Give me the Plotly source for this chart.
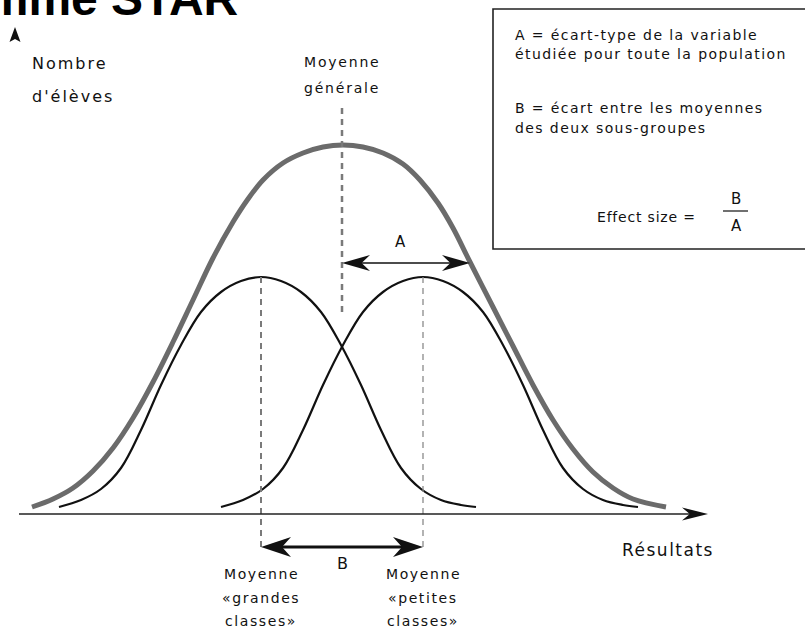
import plotly.graph_objects as go

# ---------------- data ----------------
# x : "Résultats" (arbitrary score units), y : "Nombre d'élèves" (arbitrary units)
pop_x = [32, 53, 73, 93, 113, 133, 153, 173, 193, 213, 233, 248, 263, 283, 303, 323, 343,
         363, 383, 403, 420, 438, 453, 470, 493, 513, 533, 553, 573, 593, 613, 633, 666]
pop_y = [7, 15, 26, 43, 66, 96, 132, 172, 214, 256, 292, 315, 334, 351, 361, 367, 369,
         367, 361, 350, 334, 311, 286, 252, 207, 168, 129, 94, 65, 42, 26, 15, 7]

grandes_x = [59, 81, 101, 121, 141, 161, 181, 201, 221, 241, 261,
             281, 301, 321, 341, 361, 381, 401, 421, 441, 461, 476]
grandes_y = [7, 14, 25, 46, 84, 129, 169, 202, 222, 233, 237,
             233, 222, 202, 169, 129, 84, 46, 25, 14, 9, 7]

petites_x = [221, 243, 263, 283, 303, 323, 343, 363, 383, 403, 423,
             443, 463, 483, 503, 523, 543, 563, 583, 603, 623, 638]
petites_y = [7, 14, 25, 46, 84, 129, 169, 202, 222, 233, 237,
             233, 222, 202, 169, 129, 84, 46, 25, 14, 9, 7]

mean_pop = 342        # Moyenne générale
mean_grandes = 261    # Moyenne « grandes classes »
mean_petites = 423    # Moyenne « petites classes »
sd_pop = 128          # A = écart-type de la population

# ---------------- texts ----------------
title_text = "Programme STAR"
y_label = ["Nombre", "d'élèves"]
x_label = "Résultats"
mean_pop_label = ["Moyenne", "générale"]
grandes_label = ["Moyenne", "«grandes", "classes»"]
petites_label = ["Moyenne", "«petites", "classes»"]
box_lines = ["A = écart-type de la variable",
             "étudiée pour toute la population",
             "B = écart entre les moyennes",
             "des deux sous-groupes"]
effect_text = "Effect size ="

# ---------------- figure ----------------
FONT = "DejaVu Sans"
TXT = "#111111"
X_RANGE = [0, 805]
Y_RANGE = [-116, 514]


def sp(t, ls=1.5):
    return f'<span style="letter-spacing:{ls}px">{t}</span>'


def head(tx, ty, dx, dy, length, half, notch=0.3):
    """barbed arrowhead path with tip at (tx,ty), pointing along (dx,dy)"""
    nx, ny = -dy, dx
    bx, by = tx - dx * length, ty - dy * length
    mx, my = tx - dx * length * (1 - notch), ty - dy * length * (1 - notch)
    pts = [(tx, ty), (bx + nx * half, by + ny * half), (mx, my),
           (bx - nx * half, by - ny * half)]
    return "M " + " L ".join(f"{x},{y}" for x, y in pts) + " Z"


fig = go.Figure()
fig.add_trace(go.Scatter(x=grandes_x, y=grandes_y, mode="lines",
                         line=dict(color="#111111", width=2.2, shape="spline", smoothing=1)))
fig.add_trace(go.Scatter(x=petites_x, y=petites_y, mode="lines",
                         line=dict(color="#111111", width=2.2, shape="spline", smoothing=1)))
fig.add_trace(go.Scatter(x=pop_x, y=pop_y, mode="lines",
                         line=dict(color="#6b6b6b", width=5, shape="spline", smoothing=1)))

shapes = []
# dashed mean lines
shapes.append(dict(type="line", x0=mean_pop, x1=mean_pop, y0=406, y1=202,
                   line=dict(color="#7a7a7a", width=2.5, dash="6px,5px")))
shapes.append(dict(type="line", x0=mean_grandes, x1=mean_grandes, y0=max(grandes_y), y1=-38,
                   line=dict(color="#7a7a7a", width=2, dash="6px,5px")))
shapes.append(dict(type="line", x0=mean_petites, x1=mean_petites, y0=max(petites_y), y1=-38,
                   line=dict(color="#8a8a8a", width=1.3, dash="6px,5px")))

# x axis with arrow
shapes.append(dict(type="line", x0=19, x1=695, y0=0, y1=0,
                   line=dict(color="#222222", width=1.6)))
shapes.append(dict(type="path", path=head(708, 0, 1, 0, 26, 6.5, 0.3),
                   fillcolor="#111111", line=dict(width=0)))
# y axis arrow head
shapes.append(dict(type="path", path=head(15, 487, 0, 1, 15, 5.5, 0.2),
                   fillcolor="#111111", line=dict(width=0)))

# A arrow (écart-type)
yA = 251
a_end = mean_pop + sd_pop
shapes.append(dict(type="line", x0=mean_pop + 10, x1=a_end - 10, y0=yA, y1=yA,
                   line=dict(color="#111111", width=1.6)))
shapes.append(dict(type="path", path=head(mean_pop, yA, -1, 0, 28, 8, 0.3),
                   fillcolor="#111111", line=dict(width=0)))
shapes.append(dict(type="path", path=head(a_end, yA, 1, 0, 28, 8, 0.3),
                   fillcolor="#111111", line=dict(width=0)))

# B arrow (écart entre moyennes)
yB = -33
shapes.append(dict(type="line", x0=mean_grandes + 10, x1=mean_petites - 10, y0=yB, y1=yB,
                   line=dict(color="#111111", width=3.2)))
shapes.append(dict(type="path", path=head(mean_grandes, yB, -1, 0, 30, 10, 0.3),
                   fillcolor="#111111", line=dict(width=0)))
shapes.append(dict(type="path", path=head(mean_petites, yB, 1, 0, 30, 10, 0.3),
                   fillcolor="#111111", line=dict(width=0)))

# legend box (right edge outside the picture)
shapes.append(dict(type="rect", x0=493, x1=830, y0=265, y1=505,
                   line=dict(color="#222222", width=1.6), fillcolor="rgba(0,0,0,0)"))
# fraction bar
shapes.append(dict(type="line", x0=723, x1=748, y0=303, y1=303,
                   line=dict(color="#222222", width=1.3)))

ann = []


def txt(x, y, t, size=14, xanchor="center", ls=1.5, font=FONT, color=TXT):
    ann.append(dict(x=x, y=y, xref="x", yref="y", text=sp(t, ls), showarrow=False,
                    xanchor=xanchor, yanchor="middle",
                    font=dict(family=font, size=size, color=color)))


# title (cut off at the top of the picture)
ann.append(dict(x=240, y=487, xref="x", yref="y", text=f"<b>{title_text}</b>",
                showarrow=False, xanchor="right", yanchor="bottom",
                font=dict(family="Liberation Sans", size=48, color="#000000")))

txt(30, 451, y_label[0], size=16, xanchor="left", ls=2)
txt(30, 418, y_label[1], size=16, xanchor="left", ls=2)
txt(mean_pop, 452, mean_pop_label[0], size=14, ls=1.8)
txt(mean_pop, 426, mean_pop_label[1], size=14, ls=1.8)

for i, yy in enumerate([479, 460, 406, 386]):
    txt(513, yy, box_lines[i], size=14, xanchor="left", ls=1.4)
txt(646, 297, effect_text, size=14, ls=0.8)
txt(736, 315, "B", size=15, ls=0)
txt(736, 288, "A", size=15, ls=0)

txt(400, 272, "A", size=15, ls=0)
txt((mean_grandes + mean_petites) / 2, -49, "B", size=16, ls=0)
txt(668, -36, x_label, size=17, ls=1.5)

for lbl, cx in [(grandes_label, mean_grandes), (petites_label, mean_petites)]:
    for j, yy in enumerate([-60, -84, -107]):
        txt(cx, yy, lbl[j], size=14, ls=1.6)

fig.update_layout(
    width=805, height=630,
    margin=dict(l=0, r=0, t=0, b=0),
    paper_bgcolor="white", plot_bgcolor="white",
    showlegend=False, hovermode=False,
    xaxis=dict(range=X_RANGE, visible=False, fixedrange=True),
    yaxis=dict(range=Y_RANGE, visible=False, fixedrange=True),
    shapes=shapes, annotations=ann,
)

fig.write_html("out.html", config={"displayModeBar": False},
               post_script="document.body.style.margin='0px';document.body.style.overflow='hidden';")
